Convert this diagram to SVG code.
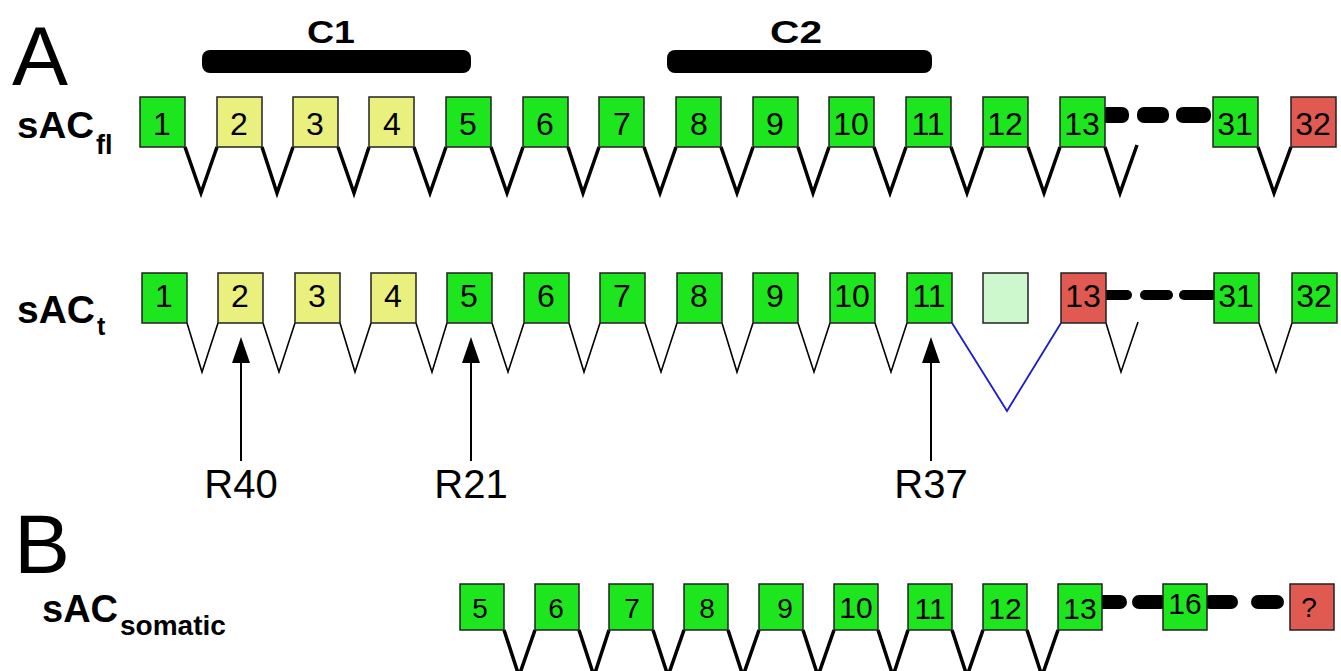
<svg xmlns="http://www.w3.org/2000/svg" width="1341" height="671" viewBox="0 0 1341 671">
  <defs>
    <style>
      text { font-family: "Liberation Sans", Arial, sans-serif; fill: #000; }
      .panel { font-size: 84px; }
      .lbl { font-weight: bold; }
      .bar { fill: #000; }
      .exon { stroke: #222; stroke-width: 1.5; }
      .g { fill: #1ee61e; }
      .y { fill: #eaf07e; }
      .r { fill: #e05a52; }
      .lg { fill: #cdf7cd; }
      .num { font-size: 32px; text-anchor: middle; }
      .num3 { font-size: 28px; text-anchor: middle; }
      .num3w { font-size: 30px; text-anchor: middle; }
      .thick { fill: none; stroke: #000; stroke-width: 3.5; stroke-linejoin: miter; }
      .thin { fill: none; stroke: #000; stroke-width: 1.6; }
      .skip { fill: none; stroke: #1c1ccc; stroke-width: 1.8; }
      .dash { fill: #000; }
      .arrow { stroke: #000; stroke-width: 2; marker-end: url(#head); }
      .site { font-size: 40px; text-anchor: middle; }
    </style>
    <marker id="head" markerUnits="userSpaceOnUse" markerWidth="26" markerHeight="18" refX="18" refY="9" orient="auto">
      <path d="M0,0 L26,9 L0,18 z" fill="#000"/>
    </marker>
  </defs>

  <!-- panel letters and isoform names -->
  <g id="labels">
    <text class="panel" x="12" y="85">A</text>
    <text class="panel" x="14" y="573" font-size="78">B</text>
    <text class="lbl" x="17" y="138" font-size="37" textLength="77" lengthAdjust="spacingAndGlyphs">sAC</text>
    <text class="lbl" x="96" y="154" font-size="27">fl</text>
    <text class="lbl" x="17" y="323" font-size="39">sAC</text>
    <text class="lbl" x="97" y="335" font-size="25">t</text>
    <text class="lbl" x="42" y="622" font-size="38">sAC</text>
    <text class="lbl" x="120" y="635" font-size="28">somatic</text>
  </g>

  <!-- catalytic domain bars -->
  <g id="domain-C1">
    <rect class="bar" x="202" y="50" width="269" height="23" rx="8"/>
    <text class="lbl" x="307" y="43" font-size="32" textLength="48" lengthAdjust="spacingAndGlyphs">C1</text>
  </g>
  <g id="domain-C2">
    <rect class="bar" x="667" y="50" width="265" height="23" rx="8"/>
    <text class="lbl" x="770" y="43" font-size="32" textLength="52" lengthAdjust="spacingAndGlyphs">C2</text>
  </g>

  <!-- splice connectors, gaps and probe arrows -->
  <g id="connectors">
    <!-- sAC_fl -->
    <polyline class="thick" points="185,147 201,193 217,147"/>
    <polyline class="thick" points="262,147 277,193 293,147"/>
    <polyline class="thick" points="338,147 354,193 369,147"/>
    <polyline class="thick" points="414,147 430,193 446,147"/>
    <polyline class="thick" points="491,147 507,193 523,147"/>
    <polyline class="thick" points="568,147 583,193 599,147"/>
    <polyline class="thick" points="644,147 660,193 676,147"/>
    <polyline class="thick" points="721,147 737,193 753,147"/>
    <polyline class="thick" points="798,147 813,193 829,147"/>
    <polyline class="thick" points="874,147 890,193 906,147"/>
    <polyline class="thick" points="951,147 967,193 983,147"/>
    <polyline class="thick" points="1028,147 1044,193 1060,147"/>
    <polyline class="thick" points="1105,147 1120,193 1137,145"/>
    <polyline class="thick" points="1258,147 1274,193 1291,147"/>
    <rect class="dash" x="1100" y="107" width="29" height="16" rx="7"/>
    <rect class="dash" x="1137" y="107" width="32" height="16" rx="7"/>
    <rect class="dash" x="1176" y="107" width="35" height="16" rx="7"/>

    <!-- sAC_t -->
    <polyline class="thin" points="187,323 202,372 218,323"/>
    <polyline class="thin" points="263,323 279,372 295,323"/>
    <polyline class="thin" points="340,323 355,372 371,323"/>
    <polyline class="thin" points="416,323 432,372 447,323"/>
    <polyline class="thin" points="492,323 508,372 524,323"/>
    <polyline class="thin" points="569,323 584,372 600,323"/>
    <polyline class="thin" points="645,323 661,372 677,323"/>
    <polyline class="thin" points="722,323 737,372 753,323"/>
    <polyline class="thin" points="798,323 814,372 830,323"/>
    <polyline class="thin" points="875,323 891,372 907,323"/>
    <polyline class="skip" points="952,323 1007,411 1061,323"/>
    <polyline class="thin" points="1106,323 1121,372 1138,322"/>
    <polyline class="thin" points="1259,323 1276,372 1292,323"/>
    <rect class="dash" x="1100" y="290" width="32" height="10" rx="5"/>
    <rect class="dash" x="1140" y="290" width="33" height="10" rx="5"/>
    <rect class="dash" x="1179" y="290" width="38" height="10" rx="5"/>

    <line class="arrow" x1="241" y1="461" x2="241" y2="345"/>
    <line class="arrow" x1="471" y1="461" x2="471" y2="345"/>
    <line class="arrow" x1="931" y1="461" x2="931" y2="345"/>

    <!-- sAC_somatic -->
    <polyline class="thick" points="504,630 519,676 535,630"/>
    <polyline class="thick" points="579,630 594,676 609,630"/>
    <polyline class="thick" points="653,630 668,676 684,630"/>
    <polyline class="thick" points="728,630 743,676 759,630"/>
    <polyline class="thick" points="803,630 818,676 834,630"/>
    <polyline class="thick" points="878,630 893,676 908,630"/>
    <polyline class="thick" points="952,630 967,676 983,630"/>
    <polyline class="thick" points="1027,630 1042,676 1058,630"/>
    <rect class="dash" x="1095" y="595" width="32" height="14" rx="7"/>
    <rect class="dash" x="1132" y="595" width="36" height="14" rx="7"/>
    <rect class="dash" x="1203" y="595" width="35" height="14" rx="7"/>
    <rect class="dash" x="1251" y="595" width="33" height="14" rx="7"/>
  </g>

  <!-- probe site names -->
  <g id="sites">
    <text class="site" x="241" y="498">R40</text>
    <text class="site" x="471" y="498">R21</text>
    <text class="site" x="931" y="498">R37</text>
  </g>

  <!-- sAC_fl exons -->
  <g id="fl-exons">
    <g id="fl-1"><rect class="exon g" x="140" y="97" width="45" height="50"/><text class="num" x="162" y="135">1</text></g>
    <g id="fl-2"><rect class="exon y" x="217" y="97" width="45" height="50"/><text class="num" x="239" y="135">2</text></g>
    <g id="fl-3"><rect class="exon y" x="293" y="97" width="45" height="50"/><text class="num" x="315" y="135">3</text></g>
    <g id="fl-4"><rect class="exon y" x="369" y="97" width="45" height="50"/><text class="num" x="392" y="135">4</text></g>
    <g id="fl-5"><rect class="exon g" x="446" y="97" width="45" height="50"/><text class="num" x="468" y="135">5</text></g>
    <g id="fl-6"><rect class="exon g" x="523" y="97" width="45" height="50"/><text class="num" x="545" y="135">6</text></g>
    <g id="fl-7"><rect class="exon g" x="599" y="97" width="45" height="50"/><text class="num" x="622" y="135">7</text></g>
    <g id="fl-8"><rect class="exon g" x="676" y="97" width="45" height="50"/><text class="num" x="699" y="135">8</text></g>
    <g id="fl-9"><rect class="exon g" x="753" y="97" width="45" height="50"/><text class="num" x="775" y="135">9</text></g>
    <g id="fl-10"><rect class="exon g" x="829" y="97" width="45" height="50"/><text class="num" x="851" y="135">10</text></g>
    <g id="fl-11"><rect class="exon g" x="906" y="97" width="45" height="50"/><text class="num" x="928" y="135">11</text></g>
    <g id="fl-12"><rect class="exon g" x="983" y="97" width="45" height="50"/><text class="num" x="1005" y="135">12</text></g>
    <g id="fl-13"><rect class="exon g" x="1060" y="97" width="45" height="50"/><text class="num" x="1082" y="135">13</text></g>
    <g id="fl-31"><rect class="exon g" x="1213" y="97" width="45" height="50"/><text class="num" x="1235" y="135">31</text></g>
    <g id="fl-32"><rect class="exon r" x="1291" y="97" width="45" height="50"/><text class="num" x="1313" y="135">32</text></g>
  </g>

  <!-- sAC_t exons -->
  <g id="t-exons">
    <g id="t-1"><rect class="exon g" x="142" y="273" width="45" height="50"/><text class="num" x="164" y="307">1</text></g>
    <g id="t-2"><rect class="exon y" x="218" y="273" width="45" height="50"/><text class="num" x="240" y="307">2</text></g>
    <g id="t-3"><rect class="exon y" x="295" y="273" width="45" height="50"/><text class="num" x="317" y="307">3</text></g>
    <g id="t-4"><rect class="exon y" x="371" y="273" width="45" height="50"/><text class="num" x="393" y="307">4</text></g>
    <g id="t-5"><rect class="exon g" x="447" y="273" width="45" height="50"/><text class="num" x="469" y="307">5</text></g>
    <g id="t-6"><rect class="exon g" x="524" y="273" width="45" height="50"/><text class="num" x="546" y="307">6</text></g>
    <g id="t-7"><rect class="exon g" x="600" y="273" width="45" height="50"/><text class="num" x="622" y="307">7</text></g>
    <g id="t-8"><rect class="exon g" x="677" y="273" width="45" height="50"/><text class="num" x="699" y="307">8</text></g>
    <g id="t-9"><rect class="exon g" x="753" y="273" width="45" height="50"/><text class="num" x="775" y="307">9</text></g>
    <g id="t-10"><rect class="exon g" x="830" y="273" width="45" height="50"/><text class="num" x="852" y="307">10</text></g>
    <g id="t-11"><rect class="exon g" x="907" y="273" width="45" height="50"/><text class="num" x="929" y="307">11</text></g>
    <g id="t-12"><rect class="exon lg" x="983" y="273" width="45" height="50"/></g>
    <g id="t-13"><rect class="exon r" x="1061" y="273" width="45" height="50"/><text class="num" x="1083" y="307">13</text></g>
    <g id="t-31"><rect class="exon g" x="1214" y="273" width="45" height="50"/><text class="num" x="1236" y="307">31</text></g>
    <g id="t-32"><rect class="exon g" x="1292" y="273" width="45" height="50"/><text class="num" x="1314" y="307">32</text></g>
  </g>

  <!-- sAC_somatic exons -->
  <g id="somatic-exons">
    <g id="s-5"><rect class="exon g" x="460" y="584" width="44" height="46"/><text class="num3" x="480" y="618">5</text></g>
    <g id="s-6"><rect class="exon g" x="535" y="584" width="44" height="46"/><text class="num3" x="556" y="618">6</text></g>
    <g id="s-7"><rect class="exon g" x="609" y="584" width="44" height="46"/><text class="num3" x="632" y="618">7</text></g>
    <g id="s-8"><rect class="exon g" x="684" y="584" width="44" height="46"/><text class="num3" x="707" y="618">8</text></g>
    <g id="s-9"><rect class="exon g" x="759" y="584" width="44" height="46"/><text class="num3" x="785" y="618">9</text></g>
    <g id="s-10"><rect class="exon g" x="834" y="584" width="44" height="46"/><text class="num3w" x="856" y="618">10</text></g>
    <g id="s-11"><rect class="exon g" x="908" y="584" width="44" height="46"/><text class="num3w" x="930" y="619">11</text></g>
    <g id="s-12"><rect class="exon g" x="983" y="584" width="44" height="46"/><text class="num3w" x="1005" y="619">12</text></g>
    <g id="s-13"><rect class="exon g" x="1058" y="584" width="44" height="46"/><text class="num3w" x="1080" y="619">13</text></g>
    <g id="s-16"><rect class="exon g" x="1163" y="584" width="44" height="46"/><text class="num3w" x="1185" y="614">16</text></g>
    <g id="s-end"><rect class="exon r" x="1290" y="584" width="44" height="46"/><text class="num3" x="1309" y="617" font-size="26">?</text></g>
  </g>
</svg>
